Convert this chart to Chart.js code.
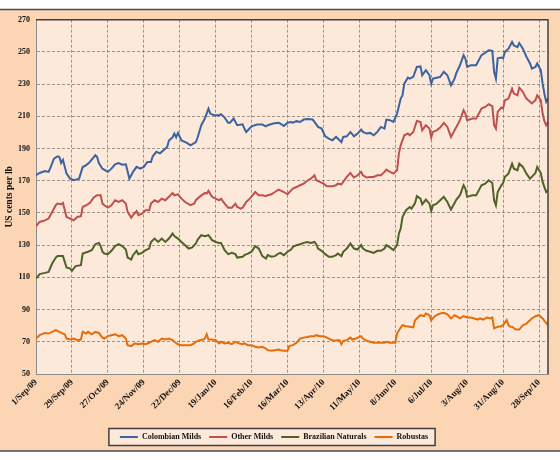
<!DOCTYPE html>
<html>
<head>
<meta charset="utf-8">
<title>Coffee indicator prices</title>
<script src="https://cdn.jsdelivr.net/npm/chart.js@4.4.1/dist/chart.umd.min.js"></script>
<style>
  html, body { margin: 0; padding: 0; background: #ffffff; }
  #chart { display: block; }
</style>
</head>
<body>
<canvas id="chart" width="560" height="460"></canvas>
<script>
// x = trading-day index from 1/Sep/09 (20 trading days between date labels)
const tickDays = [0, 20, 40, 60, 80, 100, 120, 140, 160, 180, 200, 220, 240, 260, 280];
const tickLabels = ['1/Sep/09', '29/Sep/09', '27/Oct/09', '24/Nov/09', '22/Dec/09', '19/Jan/10', '16/Feb/10',
  '16/Mar/10', '13/Apr/10', '11/May/10', '8/Jun/10', '6/Jul/10', '3/Aug/10', '31/Aug/10', '28/Sep/10'];
const yTicks = [50, 70, 90, 110, 130, 150, 170, 190, 210, 230, 250, 270];

const colombianDays = [0, 2, 5, 7, 8, 10, 12, 13, 14, 15, 17, 19, 21, 24, 26, 27, 29, 30, 33, 34, 35, 37, 40, 42, 44, 46,
  48, 50, 52, 54, 56, 58, 60, 62, 64, 65, 67, 69, 71, 73, 74, 76, 77, 78, 79, 81, 84, 86, 89, 90, 92, 94, 96, 97, 99,
  102, 103, 105, 107, 108, 110, 112, 115, 116, 117, 120, 123, 126, 128, 129, 132, 135, 136, 138, 140, 142, 143, 145,
  147, 149, 151, 154, 155, 157, 159, 161, 163, 165, 167, 168, 170, 171, 173, 175, 177, 179, 181, 182, 184, 186, 188,
  190, 192, 194, 195, 197, 199, 201, 203, 204, 205, 207, 208, 210, 212, 214, 215, 217, 219, 220, 221, 223, 225, 227,
  229, 231, 233, 234, 236, 238, 239, 240, 242, 245, 247, 248, 250, 252, 254, 255, 256, 257, 259, 260, 261, 263, 265,
  266, 268, 269, 271, 273, 275, 276, 278, 279, 281, 282, 283, 284, 285];
const colombianMilds = [173.4, 174.8, 176, 175.5, 178, 183.7, 185.2, 184.8, 181, 183, 174.4, 171.3, 170.3, 171.3, 178.6,
  179, 180.6, 181.7, 185.8, 184.8, 181, 177.5, 175.5, 177.5, 180.2, 181, 180, 180.2, 171.3, 175.5, 178.6, 177.5, 178.6,
  181.7, 181.7, 185.2, 188, 187, 189, 191, 195, 197, 199.3, 197, 199.7, 195, 193.5, 192, 194, 197, 204.5, 208.6, 214.8,
  211.7, 210.7, 210.7, 211.3, 209.2, 206, 206, 208.6, 204.5, 205, 202.4, 200.3, 203.8, 204.9, 204.9, 203.8, 204.5,
  205.5, 206, 205.5, 204, 206, 206.5, 206, 207, 206.5, 208, 208.4, 208, 206.5, 203.4, 202.4, 197.6, 196.2, 195.1,
  197.2, 196.2, 194, 197.2, 197.6, 200.3, 197.6, 199.3, 201.8, 200.3, 199.3, 199.7, 198.2, 200.3, 203.4, 202.4, 208,
  207.6, 206.5, 211.7, 221, 223, 230.3, 234, 233.4, 234.5, 240.7, 241, 235.5, 238.6, 235.5, 230.3, 233.4, 234, 234.5,
  237.6, 235.5, 229.3, 233.4, 237, 241.7, 248, 245.9, 240.7, 241.7, 241.7, 246, 248, 249.4, 251, 250.6, 237.6, 233.4,
  246, 246.5, 246, 250, 252, 256.2, 254, 253, 255.5, 252, 247, 242.8, 239.6, 240.7, 242.8, 238.6, 230.3, 224, 219, 221];

const otherDays = [0, 2, 5, 7, 9, 11, 12, 14, 15, 17, 19, 21, 23, 25, 26, 28, 30, 32, 34, 36, 37, 38, 40, 42, 44, 46, 48,
  50, 51, 53, 54, 56, 57, 59, 61, 63, 64, 66, 68, 70, 72, 74, 76, 77, 79, 81, 83, 86, 88, 89, 91, 94, 95, 96, 98, 100,
  102, 103, 105, 107, 109, 111, 112, 114, 115, 117, 119, 121, 122, 124, 126, 128, 129, 131, 133, 135, 136, 138, 140,
  142, 143, 145, 147, 149, 151, 153, 155, 156, 158, 160, 162, 165, 167, 168, 170, 171, 173, 175, 177, 179, 181, 182,
  184, 186, 188, 190, 192, 194, 195, 197, 199, 201, 202, 203, 205, 207, 208, 210, 212, 214, 215, 217, 219, 220, 221,
  223, 225, 227, 229, 231, 233, 234, 236, 238, 239, 240, 243, 245, 247, 248, 250, 252, 254, 255, 256, 257, 259, 260,
  261, 263, 265, 266, 268, 269, 271, 273, 275, 276, 278, 279, 281, 282, 283, 284, 285];
const otherMilds = [141.7, 144.4, 145.4, 146.5, 150.6, 154.8, 155.8, 155.4, 156.2, 147.5, 146.5, 145.5, 147.5, 148, 153.7,
  154.8, 156.2, 159.5, 161, 161, 155.8, 154.8, 153.3, 154.8, 157.9, 156.8, 157.9, 155.8, 150.6, 147.1, 148.6, 151.2,
  148.6, 149.6, 151.7, 151.7, 155.8, 157.9, 156.8, 158.9, 157.9, 160, 162.4, 161, 161.6, 158.9, 156.8, 154.8, 155.8,
  157.9, 160, 162.4, 162, 163.7, 160, 158.9, 157.9, 158.9, 155.8, 153.3, 153.3, 155.8, 153.7, 152.7, 153.3, 156.8,
  158.9, 161.6, 163, 161, 161, 160.4, 161, 161.6, 163, 164.5, 164, 163, 161.6, 164, 165.1, 166.1, 167.2, 168.2, 170,
  171.3, 173.4, 170.3, 169.3, 168.2, 166.6, 166.6, 167.2, 168.2, 167.8, 169.3, 172.4, 174.8, 172, 173.4, 175.5, 173.4,
  172, 172.4, 172.4, 173.4, 173.4, 175.5, 176.9, 175.5, 174.4, 176.5, 186.9, 192, 198.2, 199.3, 198.2, 200.3, 207.1,
  206.5, 201.3, 204.5, 202.4, 196.8, 200.3, 201.3, 203, 205.9, 203.4, 197.2, 201.3, 203.4, 207.6, 213.8, 211.7, 207.6,
  208.6, 208.6, 212.7, 214.8, 215.8, 217.5, 216.3, 204.5, 202.4, 212.7, 215.4, 214.8, 220, 221, 227.2, 224.1, 223,
  227.8, 225.2, 221, 219, 218, 220, 223, 220, 211.7, 207, 204.5, 206.5];

const brazilDays = [0, 2, 5, 7, 9, 11, 12, 15, 17, 19, 20, 22, 25, 26, 29, 31, 33, 35, 36, 37, 38, 40, 42, 44, 46, 48, 50,
  51, 53, 54, 56, 57, 59, 61, 63, 64, 66, 68, 70, 72, 74, 76, 77, 79, 81, 83, 85, 87, 89, 90, 92, 94, 96, 98, 100, 102,
  103, 105, 107, 109, 111, 112, 115, 116, 118, 120, 122, 124, 126, 128, 129, 131, 133, 135, 136, 138, 140, 142, 143,
  145, 147, 149, 151, 153, 155, 156, 157, 159, 161, 163, 165, 167, 168, 170, 171, 173, 175, 177, 179, 181, 182, 184,
  186, 188, 190, 192, 194, 195, 197, 199, 201, 202, 203, 204, 206, 208, 209, 211, 212, 214, 215, 217, 219, 220, 221,
  223, 225, 227, 229, 231, 233, 234, 236, 238, 239, 240, 243, 245, 247, 248, 250, 252, 254, 255, 256, 257, 259, 260,
  261, 263, 265, 266, 268, 269, 271, 273, 275, 276, 278, 279, 281, 282, 283, 284, 285];
const brazilianNaturals = [109.3, 112, 112.8, 113.4, 118.6, 122.3, 123.2, 123.2, 116.1, 115.5, 114, 117, 117.6, 124.8,
  125.9, 126.9, 130.6, 131.4, 129.4, 125.9, 124.8, 124.4, 126.5, 129.4, 130.6, 129.4, 127.3, 122.3, 121.1, 123.8,
  126.5, 124.4, 125.2, 126.9, 127.9, 132, 134.1, 132, 134.1, 132, 134.1, 137.2, 135.6, 134.1, 132, 130, 127.9, 128.6,
  131, 133.5, 136.2, 135.6, 136.2, 133.1, 132, 131.4, 131.4, 126.9, 124.4, 125.2, 124.4, 122.3, 122.8, 123.8, 124.8,
  125.9, 129.4, 127.9, 123.2, 121.7, 123.8, 122.8, 123.2, 124.8, 125.2, 123.8, 125.9, 127.3, 129, 130, 130.6, 131.4,
  132, 131.4, 132, 130.6, 127.9, 126.5, 124.4, 122.8, 122.8, 123.8, 124.8, 123.2, 125.9, 127.9, 131, 127.9, 127.3, 130,
  127.9, 126.5, 125.9, 125.2, 126.5, 126.5, 127.9, 130, 128.6, 126.9, 130, 137.2, 140.3, 147.5, 151.7, 153.7, 152.7,
  156.2, 160.4, 158.9, 155.4, 158.3, 155.8, 151.2, 154.8, 155.8, 157.9, 160, 156.8, 152.1, 156.2, 158.3, 161, 167.2,
  165.1, 160, 161, 161, 165.1, 167.2, 168.2, 170.3, 168.6, 157.9, 154.8, 163, 167.2, 168.6, 172.4, 174.4, 180.6, 177.5,
  176.5, 180.6, 178.6, 174.4, 171.3, 172.4, 174.8, 178.6, 174.8, 169.3, 166, 163, 164];

const robustaDays = [0, 2, 5, 7, 9, 11, 13, 15, 16, 17, 19, 21, 23, 25, 26, 28, 29, 31, 33, 35, 37, 38, 40, 42, 44, 46, 48,
  50, 51, 53, 55, 57, 59, 61, 63, 64, 66, 68, 70, 72, 74, 76, 77, 79, 81, 84, 86, 88, 89, 91, 93, 94, 95, 96, 98, 100,
  102, 103, 105, 107, 109, 111, 113, 115, 116, 118, 120, 122, 124, 126, 128, 129, 131, 133, 135, 136, 138, 140, 141,
  143, 145, 147, 149, 151, 153, 155, 156, 158, 160, 162, 164, 166, 168, 169, 170, 171, 173, 175, 176, 178, 180, 181,
  182, 184, 186, 188, 190, 192, 194, 195, 197, 200, 201, 203, 204, 206, 208, 210, 211, 213, 214, 216, 217, 219, 220,
  222, 223, 225, 227, 229, 231, 233, 234, 236, 238, 240, 242, 244, 246, 247, 249, 251, 253, 254, 255, 257, 259, 260,
  262, 263, 264, 265, 267, 269, 271, 273, 274, 276, 278, 280, 282, 283, 285];
const robustas = [72, 74.1, 75.5, 75.1, 76.2, 77.2, 76.2, 75.1, 74.7, 72, 71.4, 72, 71, 71.4, 76.2, 75.1, 76.2, 74.7,
  76.2, 75.5, 72.6, 72, 73.5, 74.1, 74.7, 73.5, 74.1, 72, 67.9, 67.3, 69, 68.5, 69, 68.5, 69.4, 70, 71, 70, 72, 71.4,
  72, 71, 70, 68.5, 67.9, 67.9, 67.9, 69, 70, 71, 71.4, 72, 74.7, 71.4, 71.4, 71, 69, 70, 69, 69.4, 68.5, 70, 69, 68.5,
  69, 67.9, 67.9, 66.9, 66.4, 66.9, 65.8, 64.8, 64.4, 64.8, 65.2, 64.8, 64.4, 64.4, 67.3, 67.9, 69.4, 72, 72.6, 73,
  73.5, 73.5, 74.1, 73.5, 73.5, 72.6, 71.4, 70.6, 71, 71, 68.5, 70.6, 71, 72.6, 71.4, 72, 73, 73.5, 72, 70.6, 70, 69.4,
  69.4, 69.4, 69.4, 70, 69.4, 69.4, 75.1, 78.9, 80.3, 79.7, 79.3, 78.9, 83.4, 85.5, 86.5, 85.9, 87.6, 86.5, 83.4, 85.9,
  86.5, 87.6, 88, 87.1, 84.5, 86.5, 85.9, 84.5, 85.9, 85.1, 85.1, 84.5, 83.8, 84.5, 83.8, 85.1, 84.5, 85.1, 78.3, 79.3,
  79.7, 80.3, 83.4, 80.3, 79.3, 79.3, 77.6, 77.6, 80.3, 81.3, 82.4, 84.5, 85.9, 86.5, 84.5, 83, 80.3];

const seriesNames = ['Colombian Milds', 'Other Milds', 'Brazilian Naturals', 'Robustas'];

const FONT = "'Liberation Serif', 'Times New Roman', serif";

function points(days, values) {
  return days.map((d, i) => ({ x: d, y: values[i] }));
}

function lineSet(label, days, values, color) {
  return {
    label: label,
    data: points(days, values),
    borderColor: color,
    backgroundColor: color,
    borderWidth: 2,
    pointRadius: 0,
    tension: 0,
    fill: false
  };
}

const framePlugin = {
  id: 'frame',
  beforeDraw(chart) {
    const { ctx, width, chartArea: a } = chart;
    ctx.save();
    ctx.fillStyle = '#ffffff';
    ctx.fillRect(0, 0, width, chart.height);
    ctx.fillStyle = '#fcd5b5';
    ctx.fillRect(0, 10, width, 441);
    ctx.strokeStyle = '#4a4a4a';
    ctx.lineWidth = 1.5;
    ctx.beginPath();
    ctx.moveTo(0, 9.5); ctx.lineTo(width, 9.5);
    ctx.moveTo(0, 451); ctx.lineTo(width, 451);
    ctx.stroke();

    ctx.fillStyle = '#fde9d9';
    ctx.fillRect(a.left, a.top, a.right - a.left, a.bottom - a.top);

    // legend frame
    const boxes = chart.legend && chart.legend.legendHitBoxes;
    if (boxes && boxes.length) {
      const l = Math.min(...boxes.map(b => b.left)) - 11;
      const r = Math.max(...boxes.map(b => b.left + b.width)) + 7;
      const t = Math.min(...boxes.map(b => b.top)) - 4.5;
      const h = boxes[0].height + 9;
      ctx.fillStyle = '#fde9d9';
      ctx.fillRect(l, t, r - l, h);
      ctx.strokeStyle = '#3f3f3f';
      ctx.lineWidth = 1.5;
      ctx.strokeRect(l, t, r - l, h);
    }
    ctx.restore();
  },
  afterDraw(chart) {
    const { ctx, chartArea: a } = chart;
    ctx.save();
    ctx.strokeStyle = '#404040';
    ctx.lineWidth = 1.5;
    ctx.beginPath();
    ctx.moveTo(a.left, a.top);
    ctx.lineTo(a.right, a.top);
    ctx.lineTo(a.right, a.bottom);
    ctx.stroke();
    ctx.restore();
  }
};

new Chart(document.getElementById('chart'), {
  type: 'line',
  data: {
    datasets: [
      lineSet(seriesNames[0], colombianDays, colombianMilds, '#3b63a0'),
      lineSet(seriesNames[1], otherDays, otherMilds, '#c0504d'),
      lineSet(seriesNames[2], brazilDays, brazilianNaturals, '#4f6228'),
      lineSet(seriesNames[3], robustaDays, robustas, '#e46c0a')
    ]
  },
  options: {
    responsive: false,
    animation: false,
    layout: { padding: { left: 0, right: 12, top: 19.7, bottom: 9 } },
    plugins: {
      legend: {
        position: 'bottom',
        labels: {
          usePointStyle: true,
          pointStyle: 'line',
          pointStyleWidth: 18,
          padding: 8,
          color: '#111111',
          font: { family: FONT, size: 8, weight: 'bold' }
        }
      },
      tooltip: { enabled: false }
    },
    scales: {
      x: {
        type: 'linear',
        min: 0,
        max: 285,
        afterBuildTicks: (scale) => { scale.ticks = tickDays.map(v => ({ value: v })); },
        afterFit: (scale) => { scale.height = 51; },
        ticks: {
          autoSkip: false,
          minRotation: 45,
          maxRotation: 45,
          padding: 3,
          color: '#111111',
          font: { family: FONT, size: 9, weight: 'bold' },
          callback: (value) => tickLabels[tickDays.indexOf(value)]
        },
        grid: { color: 'rgba(95,90,88,0.6)', lineWidth: 1, drawTicks: false },
        border: { color: '#8c8c8c', width: 1, dash: [3, 2] }
      },
      y: {
        min: 50,
        max: 270,
        afterBuildTicks: (scale) => { scale.ticks = yTicks.map(v => ({ value: v })); },
        afterFit: (scale) => { scale.width = 36; },
        ticks: {
          padding: 6,
          color: '#111111',
          font: { family: FONT, size: 8, weight: 'bold' }
        },
        grid: { color: 'rgba(95,90,88,0.6)', lineWidth: 1, drawTicks: false },
        border: { color: '#8c8c8c', width: 1, dash: [3, 2] },
        title: {
          display: true,
          text: 'US cents per lb',
          color: '#111111',
          font: { family: FONT, size: 9.5, weight: 'bold' }
        }
      }
    }
  },
  plugins: [framePlugin]
});
</script>
</body>
</html>
